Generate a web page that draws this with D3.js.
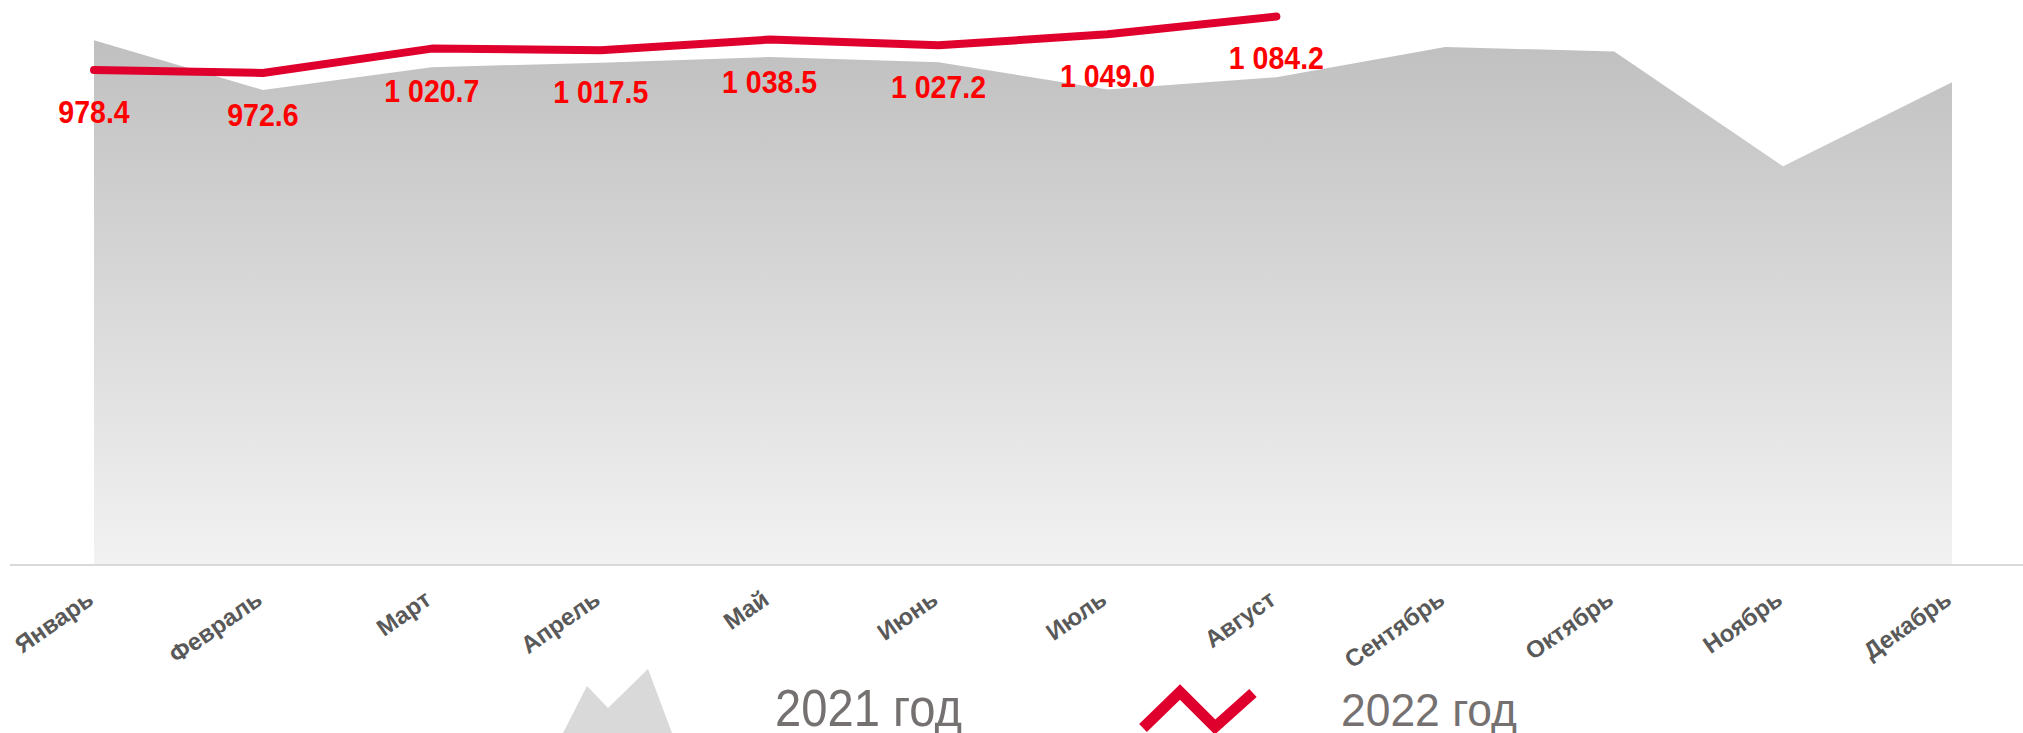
<!DOCTYPE html>
<html>
<head>
<meta charset="utf-8">
<script src="https://cdn.jsdelivr.net/npm/d3@7"></script>
<style>
  body { margin: 0; background: #fff; }
  text { font-family: "Liberation Sans", Arial, sans-serif; }
</style>
</head>
<body>
<script>
// Данные
const months = ["Январь", "Февраль", "Март", "Апрель", "Май", "Июнь",
                "Июль", "Август", "Сентябрь", "Октябрь", "Ноябрь", "Декабрь"]
const values2021 = [1037, 939, 984, 993, 1004, 994, 940, 964, 1024, 1015, 788, 954]
const values2022 = [978.4, 972.6, 1020.7, 1017.5, 1038.5, 1027.2, 1049.0, 1084.2]
const legendLabels = ["2021 год", "2022 год"]

const width = 2023, height = 733

const svg = d3.select("body")
        .append("svg")
        .attr("width", width)
        .attr("height", height)

const x = d3.scalePoint()
        .domain(months)
        .range([94, 1952])

const y = d3.scaleLinear()
        .domain([0, 1100])
        .range([565, 8.5])

const fmt = v => d3.format(",.1f")(v).replace(/,/g, " ")

// градиент для области 2021
const grad = svg.append("defs")
        .append("linearGradient")
        .attr("id", "g2021")
        .attr("gradientUnits", "userSpaceOnUse")
        .attr("x1", 0).attr("y1", y(1100))
        .attr("x2", 0).attr("y2", y(0))
grad.append("stop").attr("offset", "0%").attr("stop-color", "#bdbdbd")
grad.append("stop").attr("offset", "100%").attr("stop-color", "#f2f2f2")

// область 2021
const area = d3.area()
        .x((d, i) => x(months[i]))
        .y0(y(0))
        .y1(d => y(d))

svg.append("path")
        .datum(values2021)
        .attr("d", area)
        .attr("fill", "url(#g2021)")

// ось X
svg.append("line")
        .attr("x1", 10).attr("x2", width)
        .attr("y1", y(0)).attr("y2", y(0))
        .attr("stroke", "#d9d9d9")
        .attr("stroke-width", 2)

svg.selectAll(".month")
        .data(months)
        .enter()
        .append("text")
                .attr("class", "month")
                .attr("transform", d => `translate(${x(d) + 1},603) rotate(-35)`)
                .attr("text-anchor", "end")
                .attr("font-size", 24)
                .attr("font-weight", "bold")
                .attr("fill", "#595959")
                .text(d => d)

// линия 2022
const line = d3.line()
        .x((d, i) => x(months[i]))
        .y(d => y(d))

svg.append("path")
        .datum(values2022)
        .attr("d", line)
        .attr("fill", "none")
        .attr("stroke", "#e0002d")
        .attr("stroke-width", 8)
        .attr("stroke-linecap", "round")
        .attr("stroke-linejoin", "round")

svg.selectAll(".lbl")
        .data(values2022)
        .enter()
        .append("text")
                .attr("class", "lbl")
                .attr("transform", (d, i) => `translate(${x(months[i])},${y(d) + 53}) scale(0.92,1)`)
                .attr("text-anchor", "middle")
                .attr("font-size", 31)
                .attr("font-weight", "bold")
                .attr("fill", "#ff0000")
                .text(d => fmt(d))

// легенда
const legend = svg.append("g")

legend.append("path")
        .attr("d", "M563,733 L587,686 L608,708 L648,669 L672,733 Z")
        .attr("fill", "#d9d9d9")

legend.append("text")
        .attr("x", 775).attr("y", 726)
        .attr("font-size", 51)
        .attr("textLength", 187)
        .attr("lengthAdjust", "spacingAndGlyphs")
        .attr("fill", "#767171")
        .text(legendLabels[0])

legend.append("path")
        .attr("d", "M1143,728 L1180,692 L1215,727 L1253,693")
        .attr("fill", "none")
        .attr("stroke", "#e0002d")
        .attr("stroke-width", 11)

legend.append("text")
        .attr("x", 1341).attr("y", 726)
        .attr("font-size", 46)
        .attr("textLength", 176)
        .attr("lengthAdjust", "spacingAndGlyphs")
        .attr("fill", "#767171")
        .text(legendLabels[1])
</script>
</body>
</html>
